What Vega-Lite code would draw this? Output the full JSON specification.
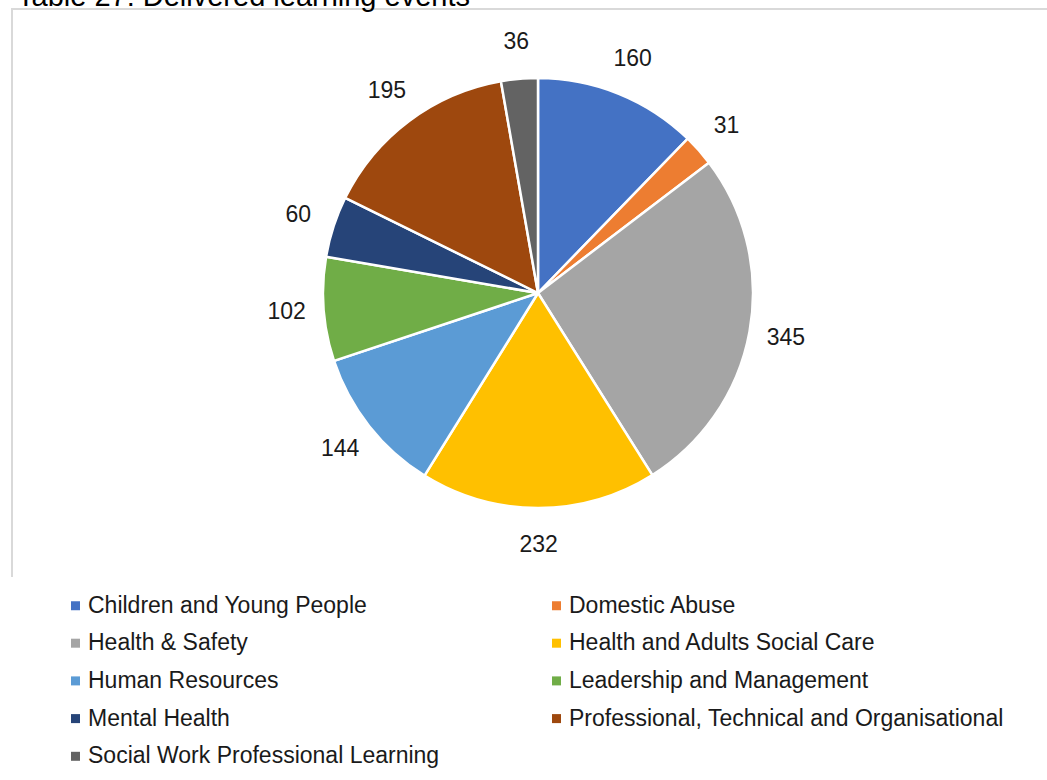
{
  "$schema": "https://vega.github.io/schema/vega-lite/v6.json",
  "autosize": {"type": "none"},
  "padding": {"left": 12, "top": 9, "right": -17, "bottom": 203},
  "width": 1052,
  "height": 568,
  "background": "white",
  "view": {"stroke": "#d9d9d9", "strokeWidth": 2, "strokeDash": [1052, 1620, 568], "fill": null},
  "title": {
    "text": "Table 27: Delivered learning events",
    "anchor": "start",
    "frame": "group",
    "dx": 5,
    "offset": -26,
    "baseline": "alphabetic",
    "font": "Liberation Sans",
    "fontSize": 29,
    "fontWeight": "normal",
    "color": "#000000"
  },
  "data": {
    "values": [
      {"category": "Children and Young People", "events": 160},
      {"category": "Domestic Abuse", "events": 31},
      {"category": "Health & Safety", "events": 345},
      {"category": "Health and Adults Social Care", "events": 232},
      {"category": "Human Resources", "events": 144},
      {"category": "Leadership and Management", "events": 102},
      {"category": "Mental Health", "events": 60},
      {"category": "Professional, Technical and Organisational", "events": 195},
      {"category": "Social Work Professional Learning", "events": 36}
    ]
  },
  "encoding": {
    "theta": {"field": "events", "type": "quantitative", "stack": true},
    "order": {"field": "category", "type": "nominal", "sort": "ascending"},
    "color": {
      "field": "category",
      "type": "nominal",
      "scale": {
        "domain": ["Children and Young People", "Domestic Abuse", "Health & Safety", "Health and Adults Social Care", "Human Resources", "Leadership and Management", "Mental Health", "Professional, Technical and Organisational", "Social Work Professional Learning"],
        "range": ["#4472C4", "#ED7D31", "#A5A5A5", "#FFC000", "#5B9BD5", "#70AD47", "#264478", "#9E480E", "#636363"]
      },
      "legend": {
        "title": null,
        "orient": "none",
        "legendX": 52,
        "legendY": 585,
        "columns": 2,
        "direction": "horizontal",
        "columnPadding": 105,
        "rowPadding": 13.7,
        "padding": 0,
        "symbolType": "square",
        "symbolSize": 81,
        "symbolStrokeWidth": 0,
        "labelOffset": 1,
        "labelFont": "Liberation Sans",
        "labelFontSize": 23,
        "labelColor": "#1a1a1a",
        "labelLimit": 600
      }
    }
  },
  "layer": [
    {
      "mark": {"type": "arc", "outerRadius": 215, "stroke": "white", "strokeWidth": 2.5}
    },
    {
      "mark": {"type": "text", "radius": 252, "font": "Liberation Sans", "fontSize": 23, "color": "#1a1a1a"},
      "encoding": {
        "text": {"field": "events", "type": "quantitative"},
        "color": {"value": "#1a1a1a"}
      }
    }
  ]
}
